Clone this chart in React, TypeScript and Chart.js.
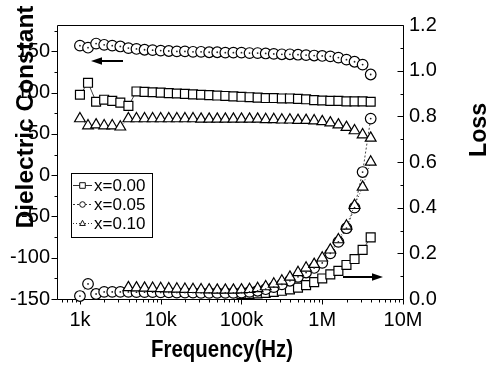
import React, { useEffect, useRef } from 'react';
import { Chart, registerables } from 'chart.js';

Chart.register(...registerables);

const FONT = '"Liberation Sans", Arial, Helvetica, sans-serif';

// ---------------- data ----------------
const freqHz = [
  1000, 1259, 1585, 1995, 2512, 3162, 3981, 5012, 6310, 7943,
  10000, 12589, 15849, 19953, 25119, 31623, 39811, 50119, 63096, 79433,
  100000, 125893, 158489, 199526, 251189, 316228, 398107, 501187, 630957, 794328,
  1000000, 1258925, 1584893, 1995262, 2511886, 3162278, 3981072,
];

const epsX000 = [
  97.5, 112, 89, 91.5, 90, 88, 84, 101.5, 101, 100.5,
  100, 99.5, 99, 98.5, 98, 97.5, 97, 96.5, 96, 95.5,
  95, 94.5, 94, 93.5, 93.5, 93, 93, 92.5, 92, 91,
  90.5, 90, 90, 89.5, 89.5, 89.5, 89,
];
const epsX005 = [
  157, 154.5, 159.5, 158, 157, 156, 154, 153, 152, 151.5,
  151, 150.5, 150, 150, 149.5, 149.5, 149, 149, 148.5, 148.5,
  148.5, 148, 148, 147.5, 147, 146.5, 146.5, 146, 145.5, 145,
  144.5, 144, 142.5, 140, 137.5, 134, 122,
];
const epsX010 = [
  68.5, 60, 61, 60, 60, 58.5, 68.5, 68.5, 68.5, 68.5,
  68.5, 68.5, 68.5, 68.5, 68.5, 68, 68, 68, 68, 68,
  68, 68, 68, 67.5, 67.5, 67, 67, 66.5, 66.5, 66,
  65, 63.5, 61, 58, 54, 49, 45,
];

const lossX000 = [
  null, null, null, null, null, null, null, null, null, null,
  null, null, null, null, null, null, null, null, null, null,
  0.021, 0.022, 0.024, 0.027, 0.031, 0.036, 0.042, 0.05, 0.061, 0.074,
  0.09, 0.108, 0.123, 0.149, 0.175, 0.215, 0.27,
];
const lossX005 = [
  0.013, 0.066, 0.022, 0.031, 0.031, 0.031, 0.031, 0.03, 0.03, 0.03,
  0.029, 0.029, 0.028, 0.028, 0.028, 0.027, 0.027, 0.027, 0.027, 0.027,
  0.028, 0.031, 0.036, 0.043, 0.052, 0.064, 0.08, 0.097, 0.116, 0.136,
  0.158, 0.2, 0.25, 0.31, 0.4, 0.556, 0.79,
];
const lossX010 = [
  null, null, null, null, null, null, 0.05, 0.049, 0.048, 0.047,
  0.046, 0.045, 0.044, 0.043, 0.042, 0.041, 0.04, 0.039, 0.039, 0.039,
  0.04, 0.042, 0.046, 0.054, 0.066, 0.079, 0.096, 0.116, 0.136, 0.152,
  0.18, 0.215, 0.26, 0.32, 0.41, 0.49, 0.6,
];

const seriesLabels = ['x=0.00', 'x=0.05', 'x=0.10'];

const xTickValues = [1e3, 1e4, 1e5, 1e6, 1e7];
const xTickLabels = ['1k', '10k', '100k', '1M', '10M'];
const leftTickValues = [-150, -100, -50, 0, 50, 100, 150];
const rightTickValues = [0, 0.2, 0.4, 0.6, 0.8, 1.0, 1.2];

const xTitle = 'Frequency(Hz)';
const leftTitle = 'Dielectric Constant';
const rightTitle = 'Loss';

// ---------------- styles ----------------
const seriesStyles = [
  { point: 'rect', radius: 6.3, dash: [] as number[] },
  { point: 'circle', radius: 5.3, dash: [2, 2] },
  { point: 'triangle', radius: 6.2, dash: [1, 2] },
];

function makeDataset(label: string, values: (number | null)[], axis: string, s: number) {
  const st = seriesStyles[s];
  return {
    label,
    data: freqHz.map((f, i) => ({ x: f, y: values[i] })),
    yAxisID: axis,
    borderColor: '#444',
    borderWidth: 1,
    borderDash: st.dash,
    pointStyle: st.point,
    pointRadius: st.radius,
    pointBorderColor: '#000',
    pointBackgroundColor: '#fff',
    pointBorderWidth: 1.2,
    tension: 0,
    fill: false,
    clip: false,
    spanGaps: false,
  };
}

function drawArrow(ctx: CanvasRenderingContext2D, x1: number, x2: number, y: number) {
  const dir = Math.sign(x2 - x1);
  const head = 11;
  ctx.beginPath();
  ctx.lineWidth = 2;
  ctx.moveTo(x1, y);
  ctx.lineTo(x2 - dir * head * 0.8, y);
  ctx.stroke();
  ctx.beginPath();
  ctx.moveTo(x2, y);
  ctx.lineTo(x2 - dir * head, y - 3.8);
  ctx.lineTo(x2 - dir * head, y + 3.8);
  ctx.closePath();
  ctx.fill();
}

function drawMarker(ctx: CanvasRenderingContext2D, style: string, x: number, y: number, r: number) {
  ctx.beginPath();
  if (style === 'rect') {
    ctx.rect(x - r, y - r, 2 * r, 2 * r);
  } else if (style === 'circle') {
    ctx.arc(x, y, r, 0, Math.PI * 2);
  } else {
    ctx.moveTo(x, y - r * 1.15);
    ctx.lineTo(x + r, y + r * 0.7);
    ctx.lineTo(x - r, y + r * 0.7);
    ctx.closePath();
  }
  ctx.fillStyle = '#fff';
  ctx.fill();
  ctx.stroke();
}

const decorPlugin = {
  id: 'decor',
  beforeDatasetsDraw(chart: any) {
    const { ctx, chartArea: a, scales } = chart;
    const xs = scales.x, yl = scales.yL, yr = scales.yR;
    ctx.save();
    ctx.strokeStyle = '#000';
    ctx.lineWidth = 1;
    ctx.setLineDash([]);
    ctx.beginPath();
    ctx.rect(a.left + 0.5, a.top + 0.5, a.right - a.left, a.bottom - a.top);
    const bx = a.bottom + 0.5;
    xTickValues.forEach((v) => {
      const p = Math.round(xs.getPixelForValue(v)) + 0.5;
      ctx.moveTo(p, bx);
      ctx.lineTo(p, bx + 5);
    });
    for (let d = 2; d < 7; d++) {
      for (let m = 2; m <= 9; m++) {
        const v = m * Math.pow(10, d);
        if (v < xs.min || v > xs.max) continue;
        const p = Math.round(xs.getPixelForValue(v)) + 0.5;
        ctx.moveTo(p, bx);
        ctx.lineTo(p, bx + 3);
      }
    }
    const lx = a.left + 0.5;
    leftTickValues.forEach((v) => {
      const p = Math.round(yl.getPixelForValue(v)) + 0.5;
      ctx.moveTo(lx, p);
      ctx.lineTo(lx - 6, p);
      const mv = v + 25;
      if (mv < yl.max) {
        const q = Math.round(yl.getPixelForValue(mv)) + 0.5;
        ctx.moveTo(lx, q);
        ctx.lineTo(lx - 3, q);
      }
    });
    const rx = a.right + 0.5;
    rightTickValues.forEach((v) => {
      const p = Math.round(yr.getPixelForValue(v)) + 0.5;
      ctx.moveTo(rx, p);
      ctx.lineTo(rx - 6, p);
      const mv = v + 0.1;
      if (mv < yr.max - 1e-6) {
        const q = Math.round(yr.getPixelForValue(mv)) + 0.5;
        ctx.moveTo(rx, q);
        ctx.lineTo(rx - 3, q);
      }
    });
    ctx.stroke();
    ctx.restore();
  },
  afterDatasetsDraw(chart: any) {
    const { ctx } = chart;
    ctx.save();
    ctx.fillStyle = '#222';
    chart.data.datasets.forEach((ds: any, i: number) => {
      if (ds.pointStyle !== 'circle') return;
      const meta = chart.getDatasetMeta(i);
      meta.data.forEach((pt: any) => {
        if (pt.skip) return;
        ctx.beginPath();
        ctx.arc(pt.x, pt.y, 0.9, 0, Math.PI * 2);
        ctx.fill();
      });
    });
    ctx.restore();
  },
  afterDraw(chart: any) {
    const { ctx } = chart;
    ctx.save();
    ctx.fillStyle = '#000';
    ctx.strokeStyle = '#000';

    ctx.font = `bold 24px ${FONT}`;
    ctx.textAlign = 'center';
    ctx.textBaseline = 'alphabetic';
    {
      const w = ctx.measureText(xTitle).width;
      ctx.save();
      ctx.translate(222, 357);
      ctx.scale(142 / w, 1);
      ctx.fillText(xTitle, 0, 0);
      ctx.restore();
    }
    {
      const w = ctx.measureText(leftTitle).width;
      ctx.save();
      ctx.translate(33, 117);
      ctx.rotate(-Math.PI / 2);
      ctx.scale(223 / w, 1);
      ctx.fillText(leftTitle, 0, 0);
      ctx.restore();
    }
    {
      const w = ctx.measureText(rightTitle).width;
      ctx.save();
      ctx.translate(486, 130);
      ctx.rotate(-Math.PI / 2);
      ctx.scale(54 / w, 1);
      ctx.fillText(rightTitle, 0, 0);
      ctx.restore();
    }

    drawArrow(ctx, 123, 91, 61);
    drawArrow(ctx, 343, 383, 277);

    ctx.lineWidth = 1;
    ctx.setLineDash([]);
    ctx.strokeRect(71.5, 173.5, 81, 64);
    const rows = [185, 204, 223];
    ctx.font = `17px ${FONT}`;
    ctx.textAlign = 'left';
    ctx.textBaseline = 'middle';
    rows.forEach((ry, i) => {
      const st = seriesStyles[i];
      ctx.strokeStyle = '#333';
      ctx.setLineDash(st.dash);
      ctx.beginPath();
      ctx.moveTo(73, ry + 0.5);
      ctx.lineTo(92, ry + 0.5);
      ctx.stroke();
      ctx.setLineDash([]);
      ctx.strokeStyle = '#111';
      drawMarker(ctx, st.point, 82.5, ry + 0.5, 2.8);
      ctx.fillStyle = '#000';
      ctx.fillText(seriesLabels[i], 94, ry + 1);
    });
    ctx.restore();
  },
};

export default function App() {
  const ref = useRef<HTMLCanvasElement | null>(null);

  useEffect(() => {
    if (!ref.current) return;
    const tickFont = { family: FONT, size: 20 };
    const chart = new Chart(ref.current, {
      type: 'line',
      data: {
        datasets: [
          makeDataset(seriesLabels[2] + ' loss', lossX010, 'yR', 2),
          makeDataset(seriesLabels[2], epsX010, 'yL', 2),
          makeDataset(seriesLabels[1] + ' loss', lossX005, 'yR', 1),
          makeDataset(seriesLabels[1], epsX005, 'yL', 1),
          makeDataset(seriesLabels[0] + ' loss', lossX000, 'yR', 0),
          makeDataset(seriesLabels[0], epsX000, 'yL', 0),
        ] as any,
      },
      options: {
        responsive: false,
        animation: false,
        events: [],
        layout: { padding: { top: 25, left: 0, right: 0, bottom: 0 } },
        plugins: { legend: { display: false }, tooltip: { enabled: false } },
        scales: {
          x: {
            type: 'logarithmic',
            position: 'bottom',
            min: 520,
            max: 1e7,
            grid: { display: false, drawTicks: false },
            border: { display: false },
            afterBuildTicks: (s: any) => {
              s.ticks = xTickValues.map((v) => ({ value: v }));
            },
            afterFit: (s: any) => {
              s.height = 70;
            },
            ticks: {
              font: tickFont,
              color: '#000',
              padding: 9,
              autoSkip: false,
              maxRotation: 0,
              callback: (_v: any, i: number) => xTickLabels[i],
            },
          },
          yL: {
            type: 'linear',
            position: 'left',
            min: -150,
            max: 182,
            grid: { display: false, drawTicks: false },
            border: { display: false },
            afterBuildTicks: (s: any) => {
              s.ticks = leftTickValues.map((v) => ({ value: v }));
            },
            afterFit: (s: any) => {
              s.width = 57;
            },
            ticks: {
              font: tickFont,
              color: '#000',
              padding: 7,
              callback: (v: any) => String(v),
            },
          },
          yR: {
            type: 'linear',
            position: 'right',
            min: 0,
            max: 1.2,
            grid: { display: false, drawTicks: false },
            border: { display: false },
            afterBuildTicks: (s: any) => {
              s.ticks = rightTickValues.map((v) => ({ value: v }));
            },
            afterFit: (s: any) => {
              s.width = 84;
            },
            ticks: {
              font: tickFont,
              color: '#000',
              padding: 6,
              callback: (v: any) => Number(v).toFixed(1),
            },
          },
        },
      } as any,
      plugins: [decorPlugin as any],
    });
    return () => chart.destroy();
  }, []);

  return (
    <div style={{ position: 'fixed', left: 0, top: 0, width: 487, height: 369, background: '#fff' }}>
      <canvas ref={ref} width={487} height={369} style={{ display: 'block' }} />
    </div>
  );
}
